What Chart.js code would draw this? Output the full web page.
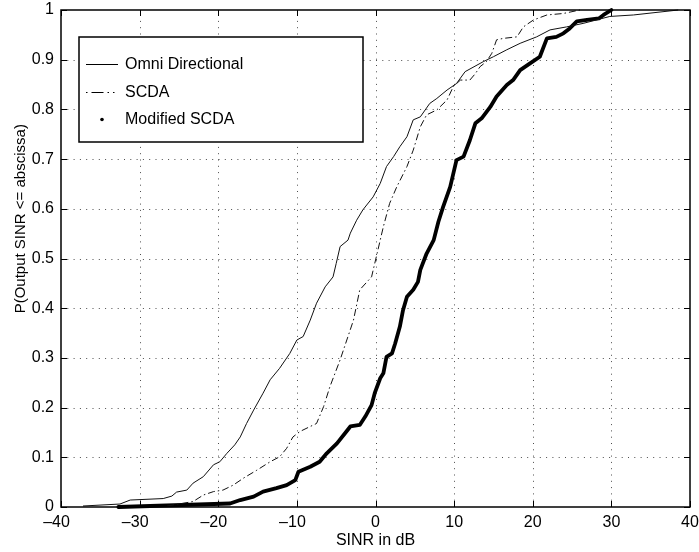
<!DOCTYPE html>
<html>
<head>
<meta charset="utf-8">
<script src="https://cdn.jsdelivr.net/npm/chart.js@4.4.0/dist/chart.umd.min.js"></script>
<style>
  html, body { margin: 0; padding: 0; background: #fff; }
  #wrap { width: 699px; height: 552px; }
</style>
</head>
<body>
<div id="wrap"><canvas id="cdfChart"></canvas></div>
<script>
// SINR (dB) samples and empirical CDF levels for each scheme
const sinrOmni = [-37.2, -32.5, -31.2, -27.0, -25.9, -25.3, -24.0, -23.2, -21.9, -20.6, -19.8, -18.9, -17.9, -17.2, -16.4, -15.5, -14.3, -13.4, -12.2, -10.9, -10.0, -9.2, -8.3, -7.5, -6.4, -5.4, -5.0, -4.5, -3.5, -3.2, -2.4, -1.6, -0.3, 0.6, 1.4, 2.3, 3.1, 4.0, 4.8, 5.7, 6.9, 7.8, 9.1, 10.3, 11.4, 13.7, 15.0, 16.7, 18.4, 20.5, 22.2, 24.3, 26.4, 29.8, 32.8, 38.5];
const cdfOmni = [0.002, 0.006, 0.014, 0.017, 0.022, 0.030, 0.034, 0.048, 0.061, 0.085, 0.091, 0.108, 0.125, 0.141, 0.168, 0.195, 0.229, 0.256, 0.279, 0.309, 0.336, 0.343, 0.376, 0.410, 0.443, 0.463, 0.490, 0.524, 0.537, 0.551, 0.577, 0.598, 0.624, 0.651, 0.685, 0.705, 0.725, 0.745, 0.779, 0.785, 0.812, 0.822, 0.839, 0.852, 0.876, 0.896, 0.906, 0.920, 0.933, 0.946, 0.960, 0.966, 0.973, 0.987, 0.990, 1.000];

const sinrScda = [-26.5, -23.2, -21.9, -20.6, -19.4, -18.1, -16.8, -15.1, -13.4, -12.2, -11.3, -10.5, -9.6, -8.3, -7.5, -6.6, -5.8, -4.5, -3.5, -2.8, -2.0, -0.5, 0.2, 1.0, 1.8, 2.7, 4.0, 4.8, 5.7, 6.5, 7.8, 9.1, 9.9, 10.8, 12.0, 12.7, 13.3, 14.1, 14.8, 15.4, 16.3, 18.0, 18.8, 20.1, 21.8, 23.9, 26.0];
const cdfScda = [0.002, 0.011, 0.024, 0.031, 0.034, 0.044, 0.058, 0.074, 0.091, 0.101, 0.118, 0.141, 0.152, 0.162, 0.168, 0.202, 0.242, 0.296, 0.343, 0.376, 0.437, 0.463, 0.510, 0.564, 0.611, 0.644, 0.685, 0.718, 0.765, 0.789, 0.799, 0.819, 0.846, 0.859, 0.859, 0.872, 0.886, 0.896, 0.913, 0.940, 0.943, 0.946, 0.966, 0.980, 0.990, 0.993, 1.000];

const sinrModScda = [-32.7, -18.5, -17.2, -15.5, -14.3, -12.6, -11.3, -10.2, -9.8, -8.3, -7.1, -6.2, -4.9, -3.7, -3.2, -2.0, -1.3, -0.5, -0.1, 0.6, 1.0, 1.4, 2.1, 2.5, 3.1, 3.5, 4.0, 4.8, 5.4, 5.7, 6.5, 7.4, 8.0, 8.6, 9.5, 10.3, 11.2, 12.0, 12.7, 13.5, 14.6, 15.4, 16.7, 17.5, 18.4, 19.7, 20.9, 21.8, 23.0, 23.9, 24.7, 25.6, 26.9, 28.4, 29.0, 30.0];
const cdfModScda = [0.000, 0.007, 0.014, 0.021, 0.031, 0.038, 0.044, 0.054, 0.071, 0.081, 0.091, 0.108, 0.128, 0.152, 0.162, 0.165, 0.182, 0.205, 0.229, 0.259, 0.269, 0.302, 0.309, 0.329, 0.363, 0.396, 0.423, 0.437, 0.453, 0.477, 0.510, 0.537, 0.574, 0.604, 0.644, 0.698, 0.705, 0.738, 0.772, 0.782, 0.805, 0.826, 0.849, 0.859, 0.879, 0.893, 0.906, 0.943, 0.946, 0.953, 0.963, 0.977, 0.980, 0.983, 0.990, 1.000];

const seriesNames = ["Omni Directional", "SCDA", "Modified SCDA"];
const xTicks = [-40, -30, -20, -10, 0, 10, 20, 30, 40];
const yTicks = [0, 0.1, 0.2, 0.3, 0.4, 0.5, 0.6, 0.7, 0.8, 0.9, 1];
const xTitle = "SINR in dB";
const yTitle = "P(Output SINR <= abscissa)";

const FONT = "'Liberation Sans', Arial, Helvetica, sans-serif";
const DASH_DOT = [7, 3, 1.5, 3];

function toPoints(xs, ys) {
  return xs.map((x, i) => ({ x: x, y: ys[i] }));
}

// dotted grid under the curves
const gridPlugin = {
  id: "dotGrid",
  beforeDatasetsDraw(chart) {
    const { ctx, chartArea: a, scales } = chart;
    ctx.save();
    ctx.strokeStyle = "rgba(0,0,0,0.7)";
    ctx.lineWidth = 1;
    ctx.setLineDash([1, 5.3]);
    xTicks.slice(1, -1).forEach(v => {
      const px = Math.round(scales.x.getPixelForValue(v)) + 0.5;
      ctx.beginPath(); ctx.moveTo(px, a.bottom); ctx.lineTo(px, a.top); ctx.stroke();
    });
    yTicks.slice(1, -1).forEach(v => {
      const py = Math.round(scales.y.getPixelForValue(v)) + 0.5;
      ctx.beginPath(); ctx.moveTo(a.left, py); ctx.lineTo(a.right, py); ctx.stroke();
    });
    ctx.restore();
  }
};

// box with inward ticks, rotated y title and the legend
const framePlugin = {
  id: "frame",
  afterDraw(chart) {
    const { ctx, chartArea: a, scales } = chart;
    const tl = 6;
    ctx.save();
    ctx.strokeStyle = "#000";
    ctx.lineWidth = 1;
    ctx.beginPath();
    xTicks.forEach(v => {
      const px = Math.round(scales.x.getPixelForValue(v)) + 0.5;
      ctx.moveTo(px, a.bottom); ctx.lineTo(px, a.bottom - tl);
      ctx.moveTo(px, a.top); ctx.lineTo(px, a.top + tl);
    });
    yTicks.forEach(v => {
      const py = Math.round(scales.y.getPixelForValue(v)) + 0.5;
      ctx.moveTo(a.left, py); ctx.lineTo(a.left + tl, py);
      ctx.moveTo(a.right, py); ctx.lineTo(a.right - tl, py);
    });
    ctx.stroke();
    ctx.lineWidth = 1.5;
    ctx.strokeRect(a.left, a.top, a.right - a.left, a.bottom - a.top);

    // y axis title (sits a bit above the middle of the axis)
    ctx.save();
    ctx.translate(21, a.top + (a.bottom - a.top) * 0.42);
    ctx.rotate(-Math.PI / 2);
    ctx.fillStyle = "#000";
    ctx.font = "15px " + FONT;
    ctx.textAlign = "center";
    ctx.textBaseline = "middle";
    ctx.fillText(yTitle, 0, 0);
    ctx.restore();

    // legend
    const lx = a.left + 18, ly = a.top + 27, lw = 284, lh = 105;
    ctx.fillStyle = "#fff";
    ctx.fillRect(lx, ly, lw, lh);
    ctx.lineWidth = 1.5;
    ctx.strokeRect(lx, ly, lw, lh);
    ctx.font = "16px " + FONT;
    ctx.textBaseline = "middle";
    ctx.textAlign = "left";
    ctx.fillStyle = "#000";
    const rowY = [ly + 27, ly + 55, ly + 82];
    const sx0 = lx + 7, sx1 = lx + 39;
    ctx.lineWidth = 1;
    ctx.setLineDash([]);
    ctx.beginPath(); ctx.moveTo(sx0, rowY[0] + 0.5); ctx.lineTo(sx1, rowY[0] + 0.5); ctx.stroke();
    ctx.setLineDash([1.5, 4, 12, 4, 1.5, 4]);
    ctx.beginPath(); ctx.moveTo(sx0, rowY[1] + 0.5); ctx.lineTo(sx1, rowY[1] + 0.5); ctx.stroke();
    ctx.setLineDash([]);
    ctx.beginPath(); ctx.arc((sx0 + sx1) / 2, rowY[2] + 0.5, 1.8, 0, Math.PI * 2); ctx.fill();
    seriesNames.forEach((name, i) => {
      ctx.fillText(name, lx + 46, rowY[i] + 1);
    });
    ctx.restore();
  }
};

new Chart(document.getElementById("cdfChart"), {
  type: "line",
  data: {
    datasets: [
      {
        label: seriesNames[0],
        data: toPoints(sinrOmni, cdfOmni),
        borderColor: "#111",
        borderWidth: 1,
        pointRadius: 0,
        tension: 0,
        clip: false
      },
      {
        label: seriesNames[1],
        data: toPoints(sinrScda, cdfScda),
        borderColor: "#111",
        borderWidth: 1,
        borderDash: DASH_DOT,
        pointRadius: 0,
        tension: 0,
        clip: false
      },
      {
        label: seriesNames[2],
        data: toPoints(sinrModScda, cdfModScda),
        borderColor: "#000",
        borderWidth: 3.8,
        borderCapStyle: "round",
        borderJoinStyle: "round",
        pointRadius: 0,
        tension: 0,
        clip: false
      }
    ]
  },
  options: {
    responsive: true,
    maintainAspectRatio: false,
    animation: false,
    events: [],
    layout: { padding: { top: 10, right: 9, left: 0, bottom: 0 } },
    plugins: {
      legend: { display: false },
      tooltip: { enabled: false }
    },
    scales: {
      x: {
        type: "linear",
        min: -40,
        max: 40,
        afterFit: s => { s.height = 45; s.paddingLeft = 0; s.paddingRight = 0; },
        afterBuildTicks: s => { s.ticks = xTicks.map(v => ({ value: v })); },
        ticks: {
          color: "#000",
          padding: 6,
          maxRotation: 0,
          font: { family: FONT, size: 16 },
          // digits stay centred on the tick, the minus sign hangs left
          callback: v => (v < 0 ? "\u2013" + Math.abs(v) + "  " : String(v))
        },
        grid: { display: false, drawTicks: false },
        border: { display: false },
        title: {
          display: true,
          text: xTitle,
          color: "#000",
          font: { family: FONT, size: 16 },
          padding: { top: 0, bottom: 2 }
        }
      },
      y: {
        type: "linear",
        min: 0,
        max: 1,
        afterFit: s => { s.width = 61; s.paddingTop = 0; s.paddingBottom = 0; },
        afterBuildTicks: s => { s.ticks = yTicks.map(v => ({ value: v })); },
        ticks: {
          color: "#000",
          padding: 7,
          font: { family: FONT, size: 16 },
          callback: v => String(Number(v.toFixed(1)))
        },
        grid: { display: false, drawTicks: false },
        border: { display: false }
      }
    }
  },
  plugins: [gridPlugin, framePlugin]
});
</script>
</body>
</html>
